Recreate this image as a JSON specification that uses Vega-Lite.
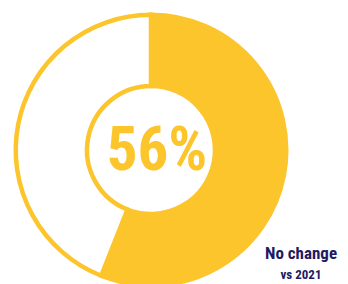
{
  "$schema": "https://vega.github.io/schema/vega-lite/v6.json",
  "autosize": "none",
  "width": 300,
  "height": 268,
  "padding": {"left": 1, "top": 16, "right": 47, "bottom": 0},
  "background": "#ffffff",
  "config": {"view": {"stroke": null}},
  "title": {
    "text": "No change",
    "subtitle": "vs 2021",
    "orient": "bottom",
    "anchor": "end",
    "align": "center",
    "frame": "group",
    "offset": -48,
    "font": "Roboto Condensed, Open Sans Condensed, Liberation Sans Narrow, DejaVu Sans Condensed, sans-serif",
    "fontSize": 17,
    "fontWeight": "bold",
    "color": "#1E1B64",
    "subtitleFont": "Roboto Condensed, Open Sans Condensed, Liberation Sans Narrow, DejaVu Sans Condensed, sans-serif",
    "subtitleFontSize": 13,
    "subtitleFontWeight": "bold",
    "subtitleColor": "#1E1B64",
    "subtitlePadding": 6
  },
  "layer": [
    {
      "data": {"values": [
        {"segment": "Yes", "value": 56},
        {"segment": "No", "value": 44}
      ]},
      "mark": {"type": "arc", "outerRadius": 135.25, "innerRadius": 64, "stroke": "#FCC52C", "strokeWidth": 4.5, "strokeJoin": "miter"},
      "encoding": {
        "theta": {"field": "value", "type": "quantitative", "stack": true},
        "order": {"field": "value", "sort": "descending"},
        "color": {"field": "segment", "type": "nominal", "scale": {"domain": ["Yes", "No"], "range": ["#FCC52C", "#FFFFFF"]}, "legend": null}
      }
    },
    {
      "data": {"values": [{"label": "56%"}]},
      "mark": {"type": "text", "align": "center", "baseline": "middle", "dx": 6, "dy": 2, "font": "Roboto Condensed, Open Sans Condensed, Liberation Sans Narrow, DejaVu Sans Condensed, sans-serif", "fontWeight": "bold", "fontSize": 61, "color": "#FCC52C"},
      "encoding": {"text": {"field": "label", "type": "nominal"}}
    }
  ]
}
